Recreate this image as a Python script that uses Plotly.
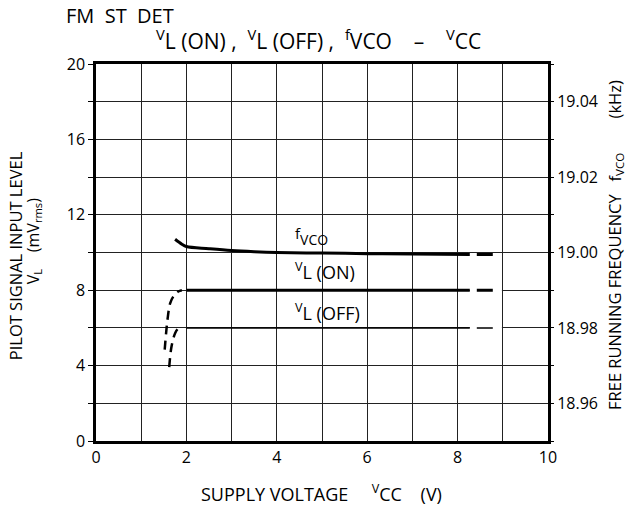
import plotly.graph_objects as go

# ---- data ----
fvco_vcc = [1.75, 1.9, 2.0, 2.5, 3.0, 3.5, 4.0, 5.0, 6.0, 7.0, 8.27]
fvco_khz = [19.0035, 19.0022, 19.0016, 19.0010, 19.0005, 19.0002, 19.0000, 18.99985, 18.9997, 18.99960, 18.99947]
fvco_dash_vcc = [8.27, 8.98]
fvco_dash_khz = [18.99947, 18.99945]

vlon_vcc = [2.0, 8.27]
vlon_mv = [8.0, 8.0]
vlon_dash_vcc = [8.27, 8.98]
vlon_dash_mv = [8.0, 8.0]
vlon_low_vcc = [1.52, 1.55, 1.58, 1.64, 1.72, 1.82, 1.9]
vlon_low_mv = [4.85, 5.7, 6.4, 7.3, 7.7, 7.93, 8.0]

vloff_vcc = [2.0, 8.27]
vloff_mv = [6.0, 6.0]
vloff_dash_vcc = [8.27, 8.98]
vloff_dash_mv = [6.0, 6.0]
vloff_low_vcc = [1.62, 1.67, 1.75, 1.82, 1.86]
vloff_low_mv = [3.92, 5.0, 5.72, 5.97, 6.0]

FONT = "Open Sans"
DASH = "0px,7px,16px,7px"

fig = go.Figure()

def line(x, y, width=3, dash="solid", color="black", yaxis="y"):
    fig.add_trace(go.Scatter(x=x, y=y, mode="lines", yaxis=yaxis, showlegend=False,
                             hoverinfo="skip",
                             line=dict(color=color, width=width, dash=dash, shape="spline")))

# white under-lines to break grid lines under dashed segments
line(vlon_dash_vcc, vlon_dash_mv, width=4, color="white")
line(vloff_dash_vcc, vloff_dash_mv, width=4, color="white")

line(vlon_vcc, vlon_mv, width=3)
line(vlon_dash_vcc, vlon_dash_mv, width=3, dash=DASH)
line(vlon_low_vcc, vlon_low_mv, width=2.5, dash="9px,6px")

line(vloff_vcc, vloff_mv, width=1.5)
line(vloff_dash_vcc, vloff_dash_mv, width=1.5, dash=DASH)
line(vloff_low_vcc, vloff_low_mv, width=2.5, dash="9px,6px")

line(fvco_vcc, fvco_khz, width=3, yaxis="y2")
line(fvco_dash_vcc, fvco_dash_khz, width=3, dash=DASH, yaxis="y2")

GRID = "#222"
fig.update_layout(
    width=628, height=506,
    margin=dict(l=96, r=80, t=64, b=65),
    paper_bgcolor="white", plot_bgcolor="white",
    font=dict(family=FONT, size=16, color="black"),
    xaxis=dict(range=[0, 10], tick0=0, dtick=2, showgrid=True,
               gridcolor=GRID, gridwidth=1.2, showline=True, linecolor="black",
               linewidth=2.5, mirror=True, ticks="", zeroline=False,
               minor=dict(dtick=1, showgrid=True, gridcolor=GRID, gridwidth=1.2),
               tickfont_size=16),
    yaxis=dict(range=[0, 20], tick0=0, dtick=4, showgrid=True,
               gridcolor=GRID, gridwidth=1.2, showline=True, linecolor="black",
               linewidth=2.5, mirror=True, ticks="outside", ticklen=5, tickcolor="black",
               minor=dict(dtick=2, showgrid=True, gridcolor=GRID, gridwidth=1.2,
                          ticks="outside", ticklen=5, tickcolor="black"),
               zeroline=False, tickfont_size=16),
    yaxis2=dict(range=[18.95, 19.05], overlaying="y", side="right", tick0=18.96, dtick=0.02,
                tickformat=".2f", showgrid=False, ticks="outside", ticklen=5,
                tickcolor="black", zeroline=False, showline=False, tickfont_size=16,
                minor=dict(dtick=0.01, tick0=18.95, ticks="outside", ticklen=5,
                           tickcolor="black", showgrid=False)),
)

annotations = [
    dict(text="FM  ST  DET", xref="paper", yref="paper", x=0, y=1, xshift=-31, yshift=49,
         xanchor="left", yanchor="middle", showarrow=False, font=dict(size=20), borderpad=0),
    dict(text="<sup>V</sup>L (ON) ,  <sup>V</sup>L (OFF) ,  <sup>f</sup>VCO    –    <sup>V</sup>CC",
         xref="paper", yref="paper", x=0.493, y=1, yshift=25, xanchor="center",
         yanchor="middle", showarrow=False, font=dict(size=21), borderpad=0),
    dict(text="<sup><span style='font-size:15px'>f</span></sup>VCO", x=4.36, y=10.85,
         xanchor="left", yanchor="middle", showarrow=False, font=dict(size=14)),
    dict(text="<sup>V</sup>L (ON)", x=4.36, y=9.0, xanchor="left", yanchor="middle",
         showarrow=False, font=dict(size=18)),
    dict(text="<sup>V</sup>L (OFF)", x=4.36, y=6.85, xanchor="left", yanchor="middle",
         showarrow=False, font=dict(size=18)),
    dict(text="SUPPLY VOLTAGE     <sup>V</sup>CC    (V)", xref="paper", yref="paper",
         x=0.499, y=0, yshift=-52, xanchor="center", yanchor="middle", showarrow=False,
         font=dict(size=18)),
    dict(text="PILOT SIGNAL INPUT LEVEL", xref="paper", yref="paper", x=0, xshift=-81,
         y=0.49, textangle=-90, xanchor="center", yanchor="middle", showarrow=False,
         font=dict(size=16.5)),
    dict(text="V<sub>L</sub>    (mV<sub>rms</sub>)", xref="paper", yref="paper", x=0,
         xshift=-63, y=0.53, textangle=-90, xanchor="center", yanchor="middle",
         showarrow=False, font=dict(size=16)),
    dict(text="FREE RUNNING FREQUENCY   f<sub>VCO</sub>        (kHz)", xref="paper",
         yref="paper", x=1, xshift=67, y=0.52, textangle=-90, xanchor="center",
         yanchor="middle", showarrow=False, font=dict(size=16.5)),
]
fig.update_layout(annotations=annotations)

fig.write_html("out.html", config={"displayModeBar": False},
               post_script="document.body.style.margin='0';")
